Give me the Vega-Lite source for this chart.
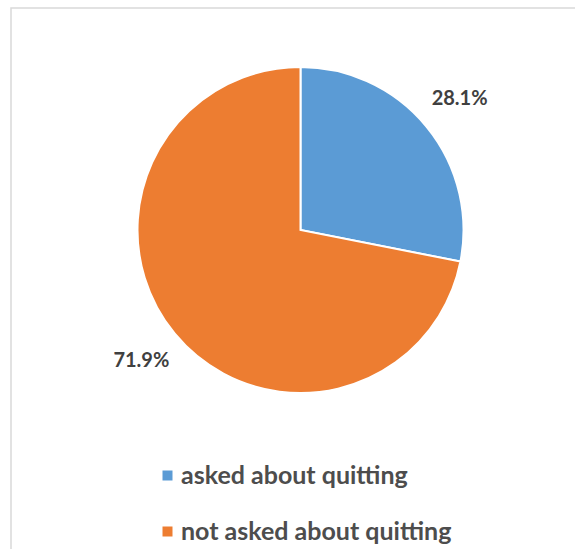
{
  "$schema": "https://vega.github.io/schema/vega-lite/v6.json",
  "width": 640,
  "height": 600,
  "autosize": "none",
  "padding": {"left": 11, "top": 8, "right": 0, "bottom": 0},
  "background": "white",
  "view": {"stroke": "#d9d9d9", "strokeWidth": 1.5, "fill": "white"},
  "data": {
    "values": [
      {"category": "asked about quitting", "value": 28.1, "label": "28.1%", "order": 1},
      {"category": "not asked about quitting", "value": 71.9, "label": "71.9%", "order": 2}
    ]
  },
  "encoding": {
    "theta": {"field": "value", "type": "quantitative", "stack": true},
    "order": {"field": "order", "type": "quantitative"},
    "color": {
      "field": "category",
      "type": "nominal",
      "scale": {"domain": ["asked about quitting", "not asked about quitting"], "range": ["#5B9BD5", "#ED7D31"]},
      "legend": {
        "orient": "none",
        "legendX": 144,
        "legendY": 455,
        "title": null,
        "symbolType": "square",
        "symbolSize": 100,
        "symbolStrokeWidth": 0,
        "labelFont": "Lato",
        "labelFontSize": 25,
        "labelFontWeight": "bold",
        "labelColor": "#4d4d4d",
        "labelOffset": 1,
        "rowPadding": 30,
        "labelLimit": 400
      }
    }
  },
  "layer": [
    {
      "mark": {"type": "arc", "outerRadius": 163, "x": 289.5, "y": 222, "stroke": "white", "strokeWidth": 2}
    },
    {
      "mark": {"type": "text", "radius": 206, "x": 289.5, "y": 222, "font": "Lato", "fontSize": 20, "fontWeight": "bold", "fill": "#404040"},
      "encoding": {"text": {"field": "label", "type": "nominal"}, "color": {"value": "#404040"}}
    }
  ]
}
